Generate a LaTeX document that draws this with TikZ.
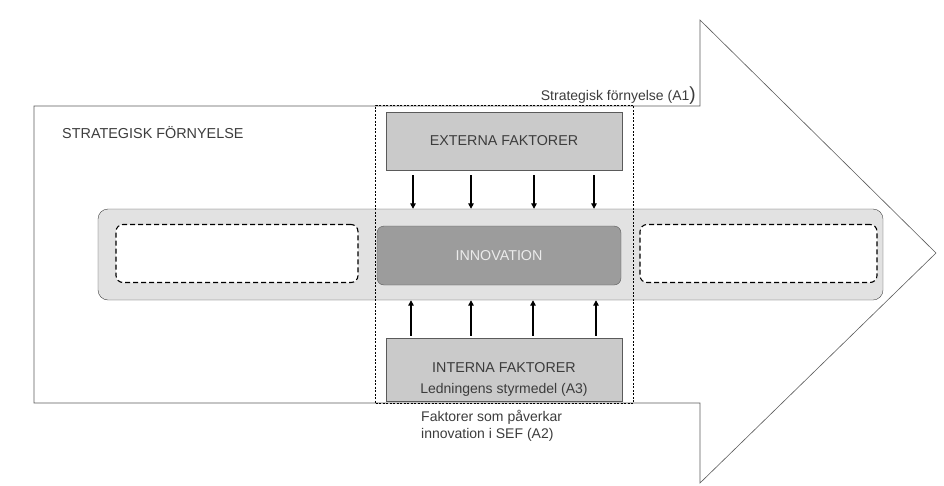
\documentclass[tikz,border=0pt]{standalone}
\usepackage{fontspec}
\setmainfont{Liberation Sans}
\usetikzlibrary{arrows.meta}

\definecolor{outline}{HTML}{5A5A5A}
\definecolor{txt}{HTML}{3C3C3C}
\definecolor{boxgray}{HTML}{CACACA}
\definecolor{bandgray}{HTML}{E2E2E2}
\definecolor{innogray}{HTML}{9C9C9C}

\tikzset{
  faktor/.style={draw=outline, fill=boxgray, minimum width=236pt, text=txt, font=\fontsize{14.3}{16}\selectfont},
  tom/.style={draw=black, dashed, dash pattern=on 5pt off 3pt, line width=1.1pt, rounded corners=7pt, fill=white, minimum width=242pt, minimum height=58pt},
  pil/.style={line width=1.5pt, -{Triangle[length=5.5pt,width=5.5pt]}},
  etikett/.style={text=txt, inner sep=0pt, font=\fontsize{14}{17}\selectfont}
}

\begin{document}
\begin{tikzpicture}[x=1pt,y=-1pt]
	\useasboundingbox (0,0) rectangle (944,485);
	% big arrow
	\draw[outline, line width=0.6pt] (34,106) -- (700,106) -- (700,20) -- (936,253) -- (700,483) -- (700,403) -- (34,403) -- cycle;
	\node[etikett, anchor=base east] (a1) at (696,100) {Strategisk förnyelse (A1{\fontsize{19}{19}\selectfont)}};
	\node[etikett, anchor=base west, font=\fontsize{14.4}{17}\selectfont] (sf) at (62,138) {STRATEGISK FÖRNYELSE};
	
	% band with the three steps
	\node[draw=black!75, fill=bandgray, rounded corners=10pt, minimum width=785pt, minimum height=91pt] (band) at (490.5,254.5) {};
	\node[tom] (vanster) at (237,253.5) {};
	\node[tom, minimum width=237pt] (hoger) at (758.5,253.5) {};
	\node[draw=outline, fill=innogray, rounded corners=7pt, minimum width=244pt, minimum height=59pt, text=white!92!black, font=\fontsize{14.3}{16}\selectfont] (innovation) at (499,255.5) {INNOVATION};
	
	% factors
	\node[faktor, minimum height=58pt] (externa) at (504,141) {EXTERNA FAKTORER};
	\node[faktor, minimum height=63pt] (interna) at (504.5,369.5) {};
	\node[etikett, font=\fontsize{14.3}{16}\selectfont] (intext) at (504,368) {INTERNA FAKTORER};
	\node[etikett] (a3) at (504,390) {Ledningens styrmedel (A3)};
	\node[etikett, anchor=north west, align=left] (a2) at (421,410) {Faktorer som påverkar\\innovation i SEF (A2)};
	
	% dashed frame round the factors
	\node[draw=black, dashed, dash pattern=on 2pt off 1.5pt, line width=0.6pt, minimum width=258pt, minimum height=298pt] (ram) at (504.5,254) {};
	
	\foreach \x in {413,471,534,594}
		\draw[pil] (\x,175 |- externa.south) ++(0,5) -- (\x,0 |- band.north);
	\foreach \x in {411,471,533,596}
		\draw[pil] (\x,0 |- interna.north) ++(0,-2) -- (\x,0 |- band.south);
\end{tikzpicture}
\end{document}
